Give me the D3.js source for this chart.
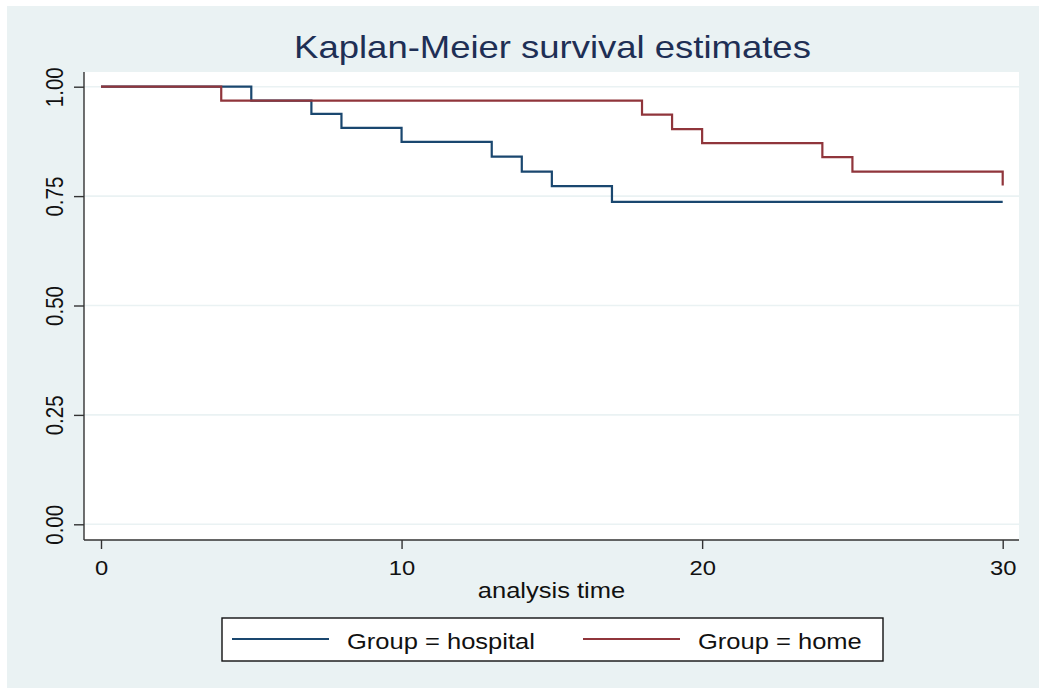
<!DOCTYPE html>
<html>
<head>
<meta charset="utf-8">
<script src="https://cdn.jsdelivr.net/npm/d3@7"></script>
<style>
  html, body { margin: 0; padding: 0; background: #ffffff; }
  svg { display: block; font-family: "Liberation Sans", Arial, sans-serif; }
</style>
</head>
<body>
<svg id="chart" width="1039" height="688"></svg>
<script>
// Kaplan-Meier step estimates by group
const hospitalTime = [0, 5, 7, 8, 10, 13, 14, 15, 17, 30];
const hospitalSurv = [1.000, 0.968, 0.938, 0.906, 0.874, 0.840, 0.806, 0.773, 0.737, 0.737];
const homeTime = [0, 4, 18, 19, 20, 24, 25, 30];
const homeSurv = [1.000, 0.968, 0.936, 0.903, 0.871, 0.839, 0.806, 0.774];

const groupNames = ["Group = hospital", "Group = home"];
const groupColors = ["#1a476f", "#90353b"];
const xTicks = [0, 10, 20, 30];
const yTicks = [0, 0.25, 0.5, 0.75, 1];
const titleText = "Kaplan-Meier survival estimates";
const xAxisTitle = "analysis time";

// glyph widening used for all labels
const SX = 1.16;

const svg = d3.select("#chart");

// graph region
svg.append("rect").attr("x", 7).attr("y", 6).attr("width", 1032).attr("height", 682)
  .attr("fill", "#eaf2f3");

// plot region
const plot = { left: 84, right: 1019, top: 72, bottom: 540 };
svg.append("rect")
  .attr("x", plot.left).attr("y", plot.top)
  .attr("width", plot.right - plot.left).attr("height", plot.bottom - plot.top)
  .attr("fill", "#ffffff");

const x = d3.scaleLinear().domain([0, 30]).range([101, 1002.7]);
const y = d3.scaleLinear().domain([0, 1]).range([524.3, 86.7]);

// horizontal grid lines
svg.append("g").selectAll("line").data(yTicks).join("line")
  .attr("x1", plot.left).attr("x2", plot.right)
  .attr("y1", d => y(d)).attr("y2", d => y(d))
  .attr("stroke", "#eaf2f3").attr("stroke-width", 1.6);

// survival curves
const line = d3.line().curve(d3.curveStepAfter).x(d => x(d[0])).y(d => y(d[1]));
const series = [
  d3.zip(hospitalTime, hospitalSurv),
  d3.zip(homeTime, homeSurv)
];
svg.append("g").selectAll("path").data(series).join("path")
  .attr("d", line)
  .attr("fill", "none")
  .attr("stroke", (d, i) => groupColors[i])
  .attr("stroke-width", 2.2);

// y axis
const yAxis = svg.append("g")
  .attr("transform", `translate(${plot.left},0)`)
  .call(d3.axisLeft(y).tickValues(yTicks).tickFormat(d3.format(".2f")).tickSize(10).tickSizeOuter(0));
yAxis.select(".domain").attr("d", `M0,${plot.top}V${plot.bottom}`);
yAxis.selectAll(".domain, .tick line").attr("stroke", "#333333").attr("stroke-width", 1.4);
yAxis.selectAll(".tick text")
  .attr("x", 0).attr("dy", 0)
  .attr("transform", `translate(-21,0) scale(${SX},1) rotate(-90)`)
  .attr("text-anchor", "middle")
  .attr("font-size", 20.5)
  .attr("font-family", "Liberation Sans, Arial, sans-serif")
  .attr("fill", "#111111");

// x axis
const xAxis = svg.append("g")
  .attr("transform", `translate(0,${plot.bottom})`)
  .call(d3.axisBottom(x).tickValues(xTicks).tickFormat(d3.format("d")).tickSize(9).tickSizeOuter(0));
xAxis.select(".domain").attr("d", `M${plot.left},0H${plot.right}`);
xAxis.selectAll(".domain, .tick line").attr("stroke", "#333333").attr("stroke-width", 1.4);
xAxis.selectAll(".tick text")
  .attr("y", 0).attr("dy", 0)
  .attr("transform", `translate(0,35) scale(${SX},1)`)
  .attr("text-anchor", "middle")
  .attr("font-size", 20.5)
  .attr("font-family", "Liberation Sans, Arial, sans-serif")
  .attr("fill", "#111111");

// axis title
svg.append("text")
  .attr("transform", `translate(${(plot.left + plot.right) / 2},598) scale(${SX},1)`)
  .attr("text-anchor", "middle")
  .attr("font-size", 22)
  .attr("fill", "#111111")
  .text(xAxisTitle);

// chart title
svg.append("text")
  .attr("transform", `translate(552.5,58) scale(1.14,1)`)
  .attr("text-anchor", "middle")
  .attr("font-size", 32)
  .attr("fill", "#1e2f55")
  .text(titleText);

// legend
const legend = svg.append("g");
legend.append("rect")
  .attr("x", 222).attr("y", 618).attr("width", 661).attr("height", 43)
  .attr("fill", "#ffffff").attr("stroke", "#111111").attr("stroke-width", 1.4);
const legendX = [232, 583];
const items = legend.selectAll("g.item").data(groupNames).join("g").attr("class", "item");
items.append("line")
  .attr("x1", (d, i) => legendX[i]).attr("x2", (d, i) => legendX[i] + 97)
  .attr("y1", 639).attr("y2", 639)
  .attr("stroke", (d, i) => groupColors[i]).attr("stroke-width", 2.2);
items.append("text")
  .attr("transform", (d, i) => `translate(${legendX[i] + 115},649) scale(${SX},1)`)
  .attr("font-size", 22)
  .attr("fill", "#111111")
  .text(d => d);
</script>
</body>
</html>
